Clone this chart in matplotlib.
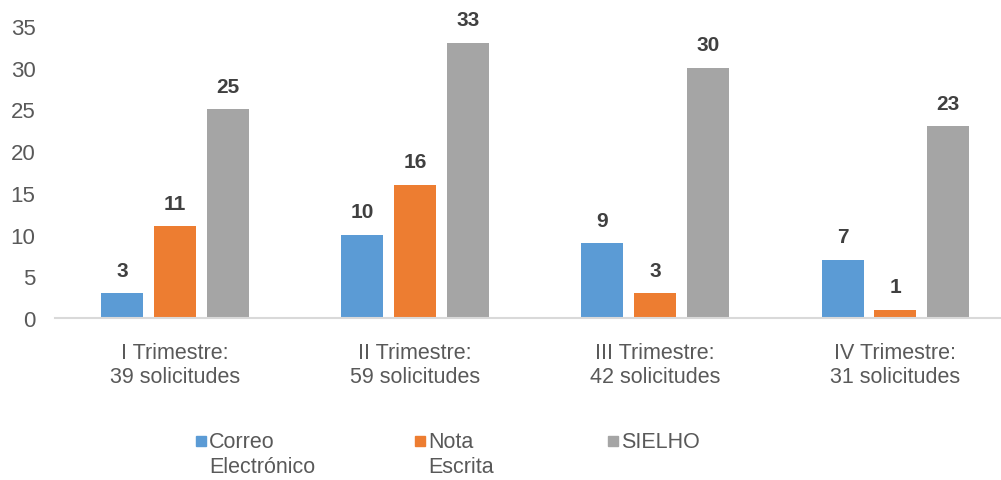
import numpy as np
import matplotlib.pyplot as plt
from matplotlib.patches import Rectangle

plt.rcParams['font.family'] = ['Liberation Sans Narrow', 'Liberation Sans', 'DejaVu Sans']

categorias = ['I Trimestre:\n39 solicitudes', 'II Trimestre:\n59 solicitudes',
              'III Trimestre:\n42 solicitudes', 'IV Trimestre:\n31 solicitudes']
series = ['Correo\nElectrónico', 'Nota\nEscrita', 'SIELHO']
correo = [3, 10, 9, 7]
nota = [11, 16, 3, 1]
sielho = [25, 33, 30, 23]
colores = ['#5b9bd5', '#ed7d31', '#a5a5a5']

gris = '#595959'
W, H = 1001, 481
fig = plt.figure(figsize=(W / 100, H / 100), dpi=100)
ax = fig.add_axes([55 / W, 1 - 319 / H, 1 - 55 / W, (319 - 27) / H])

x = np.arange(len(categorias))
ancho = 0.175
paso = 0.22
for k, (vals, nombre, c) in enumerate(zip([correo, nota, sielho], series, colores)):
    barras = ax.bar(x + (k - 1) * paso, vals, ancho, color=c, label=nombre)
    for b, v in zip(barras, vals):
        ax.text(b.get_x() + b.get_width() / 2, v + 1.6, str(v), ha='center', va='bottom',
                fontsize=15, fontweight='bold', color='#404040')

ax.set_xlim(-0.5, 3.44)
ax.set_ylim(0, 35)
ax.set_yticks(range(0, 36, 5))
ax.set_xticks(x)
ax.set_xticklabels(categorias, fontsize=15.5, color=gris, linespacing=1.2)
ax.tick_params(axis='y', labelsize=16, labelcolor=gris, length=0, pad=14)
ax.tick_params(axis='x', length=0, pad=17)
for s in ['top', 'right', 'left']:
    ax.spines[s].set_visible(False)
ax.spines['bottom'].set_color('#d9d9d9')
ax.spines['bottom'].set_linewidth(1.5)

# leyenda manual: cuadro alineado con la primera línea del texto
pos_ley = [196, 415, 608]
for px, nombre, c in zip(pos_ley, series, colores):
    fig.add_artist(Rectangle((px / W, 1 - 447 / H), 10 / W, 10 / H, color=c,
                             transform=fig.transFigure))
    fig.text((px + 13) / W, 1 - 432 / H, nombre, ha='left', va='top', fontsize=15.5,
             color=gris, linespacing=1.25)

fig.savefig('out.png', dpi=100)
